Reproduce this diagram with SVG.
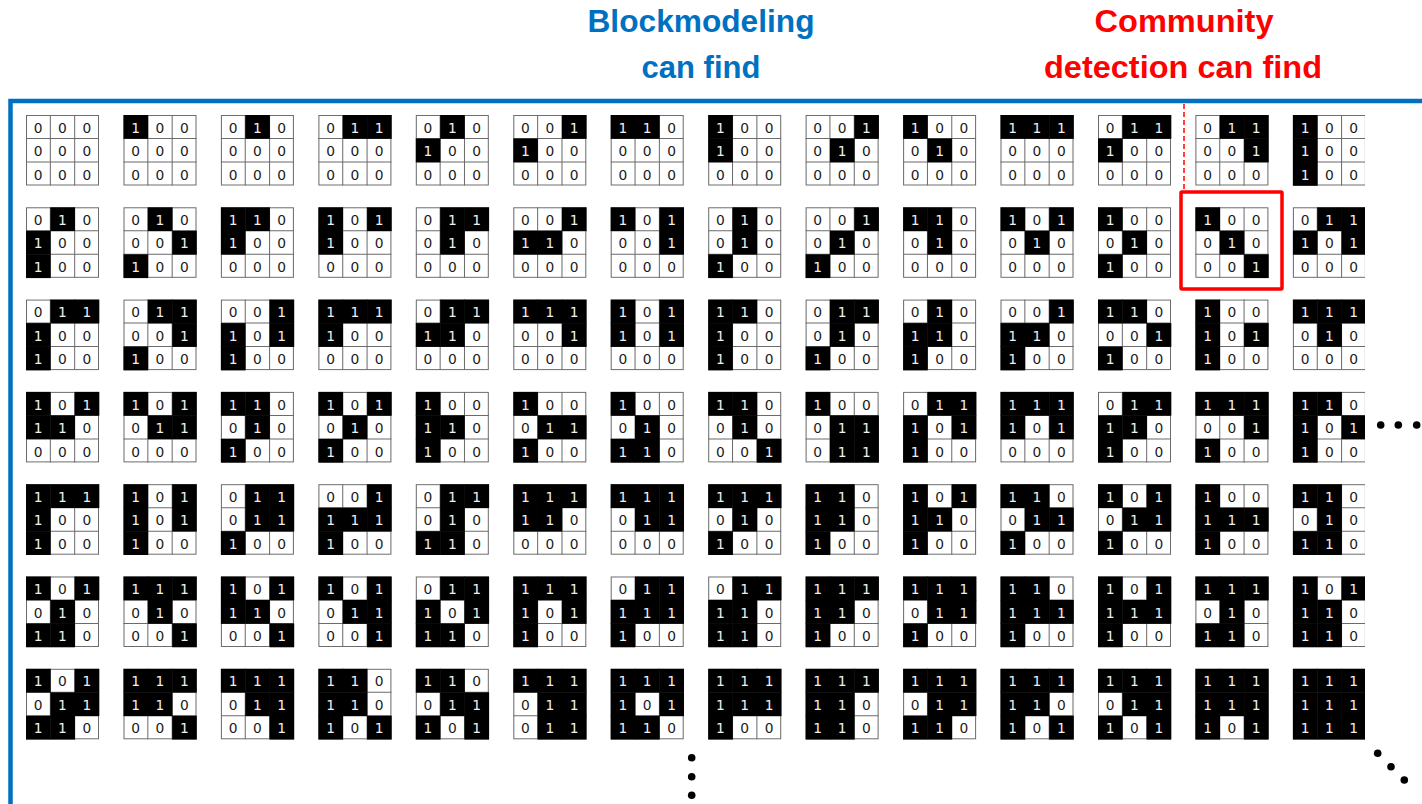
<svg xmlns="http://www.w3.org/2000/svg" xmlns:xlink="http://www.w3.org/1999/xlink" width="1422" height="804" viewBox="0 0 1422 804">
<style>
text{font-family:"DejaVu Sans","Liberation Sans",sans-serif;font-size:13.6px;text-anchor:middle;fill:#1a1a1a}
.o{fill:#f0f0f0}
.h{font-family:"Liberation Sans",Arial,sans-serif;font-weight:bold;font-size:31px;text-anchor:middle}
.blue{fill:#0070C0}
.red{fill:#FF0000}
.dot{fill:#000}
</style>
<defs>
<rect id="b" width="24.3" height="24.3" fill="#000"/>
<g id="g"><rect x=".5" y=".5" width="71" height="71" fill="#fff" stroke="#6b6b6b"/><path d="M24 0V72M48 0V72M0 24H72M0 48H72" stroke="#6b6b6b" fill="none"/></g>
<clipPath id="clip"><rect x="0" y="0" width="1365" height="804"/></clipPath>
</defs>
<rect width="1422" height="804" fill="#fff"/>
<g id="headers">
<text class="h blue" x="701" y="32" textLength="227" lengthAdjust="spacingAndGlyphs">Blockmodeling</text>
<text class="h blue" x="701" y="78" textLength="119" lengthAdjust="spacingAndGlyphs">can find</text>
<text class="h red" x="1184" y="32" textLength="179" lengthAdjust="spacingAndGlyphs">Community</text>
<text class="h red" x="1183" y="78" textLength="278" lengthAdjust="spacingAndGlyphs">detection can find</text>
</g>
<g id="frame"><path d="M10.5 804V101H1422" fill="none" stroke="#0070C0" stroke-width="4.5"/></g>
<g id="connectors"><line x1="1184" y1="104" x2="1184" y2="190" stroke="#f00" stroke-width="1.5" stroke-dasharray="5 3"/></g>
<g id="highlight"><rect x="1181" y="192" width="101" height="97" fill="none" stroke="#f00" stroke-width="3.5" rx="1"/></g>
<g id="matrices" clip-path="url(#clip)">
<g id="m1-1" transform="translate(26,115) scale(1.014,.979)"><use href="#g"/><text x="12" y="18">0</text><text x="36" y="18">0</text><text x="60" y="18">0</text><text x="12" y="42">0</text><text x="36" y="42">0</text><text x="60" y="42">0</text><text x="12" y="66">0</text><text x="36" y="66">0</text><text x="60" y="66">0</text></g>
<g id="m1-2" transform="translate(123.5,115) scale(1.014,.979)"><use href="#g"/><use href="#b"/><text class="o" x="12" y="18">1</text><text x="36" y="18">0</text><text x="60" y="18">0</text><text x="12" y="42">0</text><text x="36" y="42">0</text><text x="60" y="42">0</text><text x="12" y="66">0</text><text x="36" y="66">0</text><text x="60" y="66">0</text></g>
<g id="m1-3" transform="translate(220.9,115) scale(1.014,.979)"><use href="#g"/><use href="#b" x="24"/><text x="12" y="18">0</text><text class="o" x="36" y="18">1</text><text x="60" y="18">0</text><text x="12" y="42">0</text><text x="36" y="42">0</text><text x="60" y="42">0</text><text x="12" y="66">0</text><text x="36" y="66">0</text><text x="60" y="66">0</text></g>
<g id="m1-4" transform="translate(318.4,115) scale(1.014,.979)"><use href="#g"/><use href="#b" x="24"/><use href="#b" x="48"/><text x="12" y="18">0</text><text class="o" x="36" y="18">1</text><text class="o" x="60" y="18">1</text><text x="12" y="42">0</text><text x="36" y="42">0</text><text x="60" y="42">0</text><text x="12" y="66">0</text><text x="36" y="66">0</text><text x="60" y="66">0</text></g>
<g id="m1-5" transform="translate(415.8,115) scale(1.014,.979)"><use href="#g"/><use href="#b" x="24"/><use href="#b" y="24"/><text x="12" y="18">0</text><text class="o" x="36" y="18">1</text><text x="60" y="18">0</text><text class="o" x="12" y="42">1</text><text x="36" y="42">0</text><text x="60" y="42">0</text><text x="12" y="66">0</text><text x="36" y="66">0</text><text x="60" y="66">0</text></g>
<g id="m1-6" transform="translate(513.3,115) scale(1.014,.979)"><use href="#g"/><use href="#b" x="48"/><use href="#b" y="24"/><text x="12" y="18">0</text><text x="36" y="18">0</text><text class="o" x="60" y="18">1</text><text class="o" x="12" y="42">1</text><text x="36" y="42">0</text><text x="60" y="42">0</text><text x="12" y="66">0</text><text x="36" y="66">0</text><text x="60" y="66">0</text></g>
<g id="m1-7" transform="translate(610.7,115) scale(1.014,.979)"><use href="#g"/><use href="#b"/><use href="#b" x="24"/><text class="o" x="12" y="18">1</text><text class="o" x="36" y="18">1</text><text x="60" y="18">0</text><text x="12" y="42">0</text><text x="36" y="42">0</text><text x="60" y="42">0</text><text x="12" y="66">0</text><text x="36" y="66">0</text><text x="60" y="66">0</text></g>
<g id="m1-8" transform="translate(708.2,115) scale(1.014,.979)"><use href="#g"/><use href="#b"/><use href="#b" y="24"/><text class="o" x="12" y="18">1</text><text x="36" y="18">0</text><text x="60" y="18">0</text><text class="o" x="12" y="42">1</text><text x="36" y="42">0</text><text x="60" y="42">0</text><text x="12" y="66">0</text><text x="36" y="66">0</text><text x="60" y="66">0</text></g>
<g id="m1-9" transform="translate(805.6,115) scale(1.014,.979)"><use href="#g"/><use href="#b" x="48"/><use href="#b" x="24" y="24"/><text x="12" y="18">0</text><text x="36" y="18">0</text><text class="o" x="60" y="18">1</text><text x="12" y="42">0</text><text class="o" x="36" y="42">1</text><text x="60" y="42">0</text><text x="12" y="66">0</text><text x="36" y="66">0</text><text x="60" y="66">0</text></g>
<g id="m1-10" transform="translate(903.1,115) scale(1.014,.979)"><use href="#g"/><use href="#b"/><use href="#b" x="24" y="24"/><text class="o" x="12" y="18">1</text><text x="36" y="18">0</text><text x="60" y="18">0</text><text x="12" y="42">0</text><text class="o" x="36" y="42">1</text><text x="60" y="42">0</text><text x="12" y="66">0</text><text x="36" y="66">0</text><text x="60" y="66">0</text></g>
<g id="m1-11" transform="translate(1000.5,115) scale(1.014,.979)"><use href="#g"/><use href="#b"/><use href="#b" x="24"/><use href="#b" x="48"/><text class="o" x="12" y="18">1</text><text class="o" x="36" y="18">1</text><text class="o" x="60" y="18">1</text><text x="12" y="42">0</text><text x="36" y="42">0</text><text x="60" y="42">0</text><text x="12" y="66">0</text><text x="36" y="66">0</text><text x="60" y="66">0</text></g>
<g id="m1-12" transform="translate(1098,115) scale(1.014,.979)"><use href="#g"/><use href="#b" x="24"/><use href="#b" x="48"/><use href="#b" y="24"/><text x="12" y="18">0</text><text class="o" x="36" y="18">1</text><text class="o" x="60" y="18">1</text><text class="o" x="12" y="42">1</text><text x="36" y="42">0</text><text x="60" y="42">0</text><text x="12" y="66">0</text><text x="36" y="66">0</text><text x="60" y="66">0</text></g>
<g id="m1-13" transform="translate(1195.4,115) scale(1.014,.979)"><use href="#g"/><use href="#b" x="24"/><use href="#b" x="48"/><use href="#b" x="48" y="24"/><text x="12" y="18">0</text><text class="o" x="36" y="18">1</text><text class="o" x="60" y="18">1</text><text x="12" y="42">0</text><text x="36" y="42">0</text><text class="o" x="60" y="42">1</text><text x="12" y="66">0</text><text x="36" y="66">0</text><text x="60" y="66">0</text></g>
<g id="m1-14" transform="translate(1292.9,115) scale(1.014,.979)"><use href="#g"/><use href="#b"/><use href="#b" y="24"/><use href="#b" y="48"/><text class="o" x="12" y="18">1</text><text x="36" y="18">0</text><text x="60" y="18">0</text><text class="o" x="12" y="42">1</text><text x="36" y="42">0</text><text x="60" y="42">0</text><text class="o" x="12" y="66">1</text><text x="36" y="66">0</text><text x="60" y="66">0</text></g>

<g id="m2-1" transform="translate(26,207.3) scale(1.014,.979)"><use href="#g"/><use href="#b" x="24"/><use href="#b" y="24"/><use href="#b" y="48"/><text x="12" y="18">0</text><text class="o" x="36" y="18">1</text><text x="60" y="18">0</text><text class="o" x="12" y="42">1</text><text x="36" y="42">0</text><text x="60" y="42">0</text><text class="o" x="12" y="66">1</text><text x="36" y="66">0</text><text x="60" y="66">0</text></g>
<g id="m2-2" transform="translate(123.5,207.3) scale(1.014,.979)"><use href="#g"/><use href="#b" x="24"/><use href="#b" x="48" y="24"/><use href="#b" y="48"/><text x="12" y="18">0</text><text class="o" x="36" y="18">1</text><text x="60" y="18">0</text><text x="12" y="42">0</text><text x="36" y="42">0</text><text class="o" x="60" y="42">1</text><text class="o" x="12" y="66">1</text><text x="36" y="66">0</text><text x="60" y="66">0</text></g>
<g id="m2-3" transform="translate(220.9,207.3) scale(1.014,.979)"><use href="#g"/><use href="#b"/><use href="#b" x="24"/><use href="#b" y="24"/><text class="o" x="12" y="18">1</text><text class="o" x="36" y="18">1</text><text x="60" y="18">0</text><text class="o" x="12" y="42">1</text><text x="36" y="42">0</text><text x="60" y="42">0</text><text x="12" y="66">0</text><text x="36" y="66">0</text><text x="60" y="66">0</text></g>
<g id="m2-4" transform="translate(318.4,207.3) scale(1.014,.979)"><use href="#g"/><use href="#b"/><use href="#b" x="48"/><use href="#b" y="24"/><text class="o" x="12" y="18">1</text><text x="36" y="18">0</text><text class="o" x="60" y="18">1</text><text class="o" x="12" y="42">1</text><text x="36" y="42">0</text><text x="60" y="42">0</text><text x="12" y="66">0</text><text x="36" y="66">0</text><text x="60" y="66">0</text></g>
<g id="m2-5" transform="translate(415.8,207.3) scale(1.014,.979)"><use href="#g"/><use href="#b" x="24"/><use href="#b" x="48"/><use href="#b" x="24" y="24"/><text x="12" y="18">0</text><text class="o" x="36" y="18">1</text><text class="o" x="60" y="18">1</text><text x="12" y="42">0</text><text class="o" x="36" y="42">1</text><text x="60" y="42">0</text><text x="12" y="66">0</text><text x="36" y="66">0</text><text x="60" y="66">0</text></g>
<g id="m2-6" transform="translate(513.3,207.3) scale(1.014,.979)"><use href="#g"/><use href="#b" x="48"/><use href="#b" y="24"/><use href="#b" x="24" y="24"/><text x="12" y="18">0</text><text x="36" y="18">0</text><text class="o" x="60" y="18">1</text><text class="o" x="12" y="42">1</text><text class="o" x="36" y="42">1</text><text x="60" y="42">0</text><text x="12" y="66">0</text><text x="36" y="66">0</text><text x="60" y="66">0</text></g>
<g id="m2-7" transform="translate(610.7,207.3) scale(1.014,.979)"><use href="#g"/><use href="#b"/><use href="#b" x="48"/><use href="#b" x="48" y="24"/><text class="o" x="12" y="18">1</text><text x="36" y="18">0</text><text class="o" x="60" y="18">1</text><text x="12" y="42">0</text><text x="36" y="42">0</text><text class="o" x="60" y="42">1</text><text x="12" y="66">0</text><text x="36" y="66">0</text><text x="60" y="66">0</text></g>
<g id="m2-8" transform="translate(708.2,207.3) scale(1.014,.979)"><use href="#g"/><use href="#b" x="24"/><use href="#b" x="24" y="24"/><use href="#b" y="48"/><text x="12" y="18">0</text><text class="o" x="36" y="18">1</text><text x="60" y="18">0</text><text x="12" y="42">0</text><text class="o" x="36" y="42">1</text><text x="60" y="42">0</text><text class="o" x="12" y="66">1</text><text x="36" y="66">0</text><text x="60" y="66">0</text></g>
<g id="m2-9" transform="translate(805.6,207.3) scale(1.014,.979)"><use href="#g"/><use href="#b" x="48"/><use href="#b" x="24" y="24"/><use href="#b" y="48"/><text x="12" y="18">0</text><text x="36" y="18">0</text><text class="o" x="60" y="18">1</text><text x="12" y="42">0</text><text class="o" x="36" y="42">1</text><text x="60" y="42">0</text><text class="o" x="12" y="66">1</text><text x="36" y="66">0</text><text x="60" y="66">0</text></g>
<g id="m2-10" transform="translate(903.1,207.3) scale(1.014,.979)"><use href="#g"/><use href="#b"/><use href="#b" x="24"/><use href="#b" x="24" y="24"/><text class="o" x="12" y="18">1</text><text class="o" x="36" y="18">1</text><text x="60" y="18">0</text><text x="12" y="42">0</text><text class="o" x="36" y="42">1</text><text x="60" y="42">0</text><text x="12" y="66">0</text><text x="36" y="66">0</text><text x="60" y="66">0</text></g>
<g id="m2-11" transform="translate(1000.5,207.3) scale(1.014,.979)"><use href="#g"/><use href="#b"/><use href="#b" x="48"/><use href="#b" x="24" y="24"/><text class="o" x="12" y="18">1</text><text x="36" y="18">0</text><text class="o" x="60" y="18">1</text><text x="12" y="42">0</text><text class="o" x="36" y="42">1</text><text x="60" y="42">0</text><text x="12" y="66">0</text><text x="36" y="66">0</text><text x="60" y="66">0</text></g>
<g id="m2-12" transform="translate(1098,207.3) scale(1.014,.979)"><use href="#g"/><use href="#b"/><use href="#b" x="24" y="24"/><use href="#b" y="48"/><text class="o" x="12" y="18">1</text><text x="36" y="18">0</text><text x="60" y="18">0</text><text x="12" y="42">0</text><text class="o" x="36" y="42">1</text><text x="60" y="42">0</text><text class="o" x="12" y="66">1</text><text x="36" y="66">0</text><text x="60" y="66">0</text></g>
<g id="m2-13" transform="translate(1195.4,207.3) scale(1.014,.979)"><use href="#g"/><use href="#b"/><use href="#b" x="24" y="24"/><use href="#b" x="48" y="48"/><text class="o" x="12" y="18">1</text><text x="36" y="18">0</text><text x="60" y="18">0</text><text x="12" y="42">0</text><text class="o" x="36" y="42">1</text><text x="60" y="42">0</text><text x="12" y="66">0</text><text x="36" y="66">0</text><text class="o" x="60" y="66">1</text></g>
<g id="m2-14" transform="translate(1292.9,207.3) scale(1.014,.979)"><use href="#g"/><use href="#b" x="24"/><use href="#b" x="48"/><use href="#b" y="24"/><use href="#b" x="48" y="24"/><text x="12" y="18">0</text><text class="o" x="36" y="18">1</text><text class="o" x="60" y="18">1</text><text class="o" x="12" y="42">1</text><text x="36" y="42">0</text><text class="o" x="60" y="42">1</text><text x="12" y="66">0</text><text x="36" y="66">0</text><text x="60" y="66">0</text></g>

<g id="m3-1" transform="translate(26,299.6) scale(1.014,.979)"><use href="#g"/><use href="#b" x="24"/><use href="#b" x="48"/><use href="#b" y="24"/><use href="#b" y="48"/><text x="12" y="18">0</text><text class="o" x="36" y="18">1</text><text class="o" x="60" y="18">1</text><text class="o" x="12" y="42">1</text><text x="36" y="42">0</text><text x="60" y="42">0</text><text class="o" x="12" y="66">1</text><text x="36" y="66">0</text><text x="60" y="66">0</text></g>
<g id="m3-2" transform="translate(123.5,299.6) scale(1.014,.979)"><use href="#g"/><use href="#b" x="24"/><use href="#b" x="48"/><use href="#b" x="48" y="24"/><use href="#b" y="48"/><text x="12" y="18">0</text><text class="o" x="36" y="18">1</text><text class="o" x="60" y="18">1</text><text x="12" y="42">0</text><text x="36" y="42">0</text><text class="o" x="60" y="42">1</text><text class="o" x="12" y="66">1</text><text x="36" y="66">0</text><text x="60" y="66">0</text></g>
<g id="m3-3" transform="translate(220.9,299.6) scale(1.014,.979)"><use href="#g"/><use href="#b" x="48"/><use href="#b" y="24"/><use href="#b" x="48" y="24"/><use href="#b" y="48"/><text x="12" y="18">0</text><text x="36" y="18">0</text><text class="o" x="60" y="18">1</text><text class="o" x="12" y="42">1</text><text x="36" y="42">0</text><text class="o" x="60" y="42">1</text><text class="o" x="12" y="66">1</text><text x="36" y="66">0</text><text x="60" y="66">0</text></g>
<g id="m3-4" transform="translate(318.4,299.6) scale(1.014,.979)"><use href="#g"/><use href="#b"/><use href="#b" x="24"/><use href="#b" x="48"/><use href="#b" y="24"/><text class="o" x="12" y="18">1</text><text class="o" x="36" y="18">1</text><text class="o" x="60" y="18">1</text><text class="o" x="12" y="42">1</text><text x="36" y="42">0</text><text x="60" y="42">0</text><text x="12" y="66">0</text><text x="36" y="66">0</text><text x="60" y="66">0</text></g>
<g id="m3-5" transform="translate(415.8,299.6) scale(1.014,.979)"><use href="#g"/><use href="#b" x="24"/><use href="#b" x="48"/><use href="#b" y="24"/><use href="#b" x="24" y="24"/><text x="12" y="18">0</text><text class="o" x="36" y="18">1</text><text class="o" x="60" y="18">1</text><text class="o" x="12" y="42">1</text><text class="o" x="36" y="42">1</text><text x="60" y="42">0</text><text x="12" y="66">0</text><text x="36" y="66">0</text><text x="60" y="66">0</text></g>
<g id="m3-6" transform="translate(513.3,299.6) scale(1.014,.979)"><use href="#g"/><use href="#b"/><use href="#b" x="24"/><use href="#b" x="48"/><use href="#b" x="48" y="24"/><text class="o" x="12" y="18">1</text><text class="o" x="36" y="18">1</text><text class="o" x="60" y="18">1</text><text x="12" y="42">0</text><text x="36" y="42">0</text><text class="o" x="60" y="42">1</text><text x="12" y="66">0</text><text x="36" y="66">0</text><text x="60" y="66">0</text></g>
<g id="m3-7" transform="translate(610.7,299.6) scale(1.014,.979)"><use href="#g"/><use href="#b"/><use href="#b" x="48"/><use href="#b" y="24"/><use href="#b" x="48" y="24"/><text class="o" x="12" y="18">1</text><text x="36" y="18">0</text><text class="o" x="60" y="18">1</text><text class="o" x="12" y="42">1</text><text x="36" y="42">0</text><text class="o" x="60" y="42">1</text><text x="12" y="66">0</text><text x="36" y="66">0</text><text x="60" y="66">0</text></g>
<g id="m3-8" transform="translate(708.2,299.6) scale(1.014,.979)"><use href="#g"/><use href="#b"/><use href="#b" x="24"/><use href="#b" y="24"/><use href="#b" y="48"/><text class="o" x="12" y="18">1</text><text class="o" x="36" y="18">1</text><text x="60" y="18">0</text><text class="o" x="12" y="42">1</text><text x="36" y="42">0</text><text x="60" y="42">0</text><text class="o" x="12" y="66">1</text><text x="36" y="66">0</text><text x="60" y="66">0</text></g>
<g id="m3-9" transform="translate(805.6,299.6) scale(1.014,.979)"><use href="#g"/><use href="#b" x="24"/><use href="#b" x="48"/><use href="#b" x="24" y="24"/><use href="#b" y="48"/><text x="12" y="18">0</text><text class="o" x="36" y="18">1</text><text class="o" x="60" y="18">1</text><text x="12" y="42">0</text><text class="o" x="36" y="42">1</text><text x="60" y="42">0</text><text class="o" x="12" y="66">1</text><text x="36" y="66">0</text><text x="60" y="66">0</text></g>
<g id="m3-10" transform="translate(903.1,299.6) scale(1.014,.979)"><use href="#g"/><use href="#b" x="24"/><use href="#b" y="24"/><use href="#b" x="24" y="24"/><use href="#b" y="48"/><text x="12" y="18">0</text><text class="o" x="36" y="18">1</text><text x="60" y="18">0</text><text class="o" x="12" y="42">1</text><text class="o" x="36" y="42">1</text><text x="60" y="42">0</text><text class="o" x="12" y="66">1</text><text x="36" y="66">0</text><text x="60" y="66">0</text></g>
<g id="m3-11" transform="translate(1000.5,299.6) scale(1.014,.979)"><use href="#g"/><use href="#b" x="48"/><use href="#b" y="24"/><use href="#b" x="24" y="24"/><use href="#b" y="48"/><text x="12" y="18">0</text><text x="36" y="18">0</text><text class="o" x="60" y="18">1</text><text class="o" x="12" y="42">1</text><text class="o" x="36" y="42">1</text><text x="60" y="42">0</text><text class="o" x="12" y="66">1</text><text x="36" y="66">0</text><text x="60" y="66">0</text></g>
<g id="m3-12" transform="translate(1098,299.6) scale(1.014,.979)"><use href="#g"/><use href="#b"/><use href="#b" x="24"/><use href="#b" x="48" y="24"/><use href="#b" y="48"/><text class="o" x="12" y="18">1</text><text class="o" x="36" y="18">1</text><text x="60" y="18">0</text><text x="12" y="42">0</text><text x="36" y="42">0</text><text class="o" x="60" y="42">1</text><text class="o" x="12" y="66">1</text><text x="36" y="66">0</text><text x="60" y="66">0</text></g>
<g id="m3-13" transform="translate(1195.4,299.6) scale(1.014,.979)"><use href="#g"/><use href="#b"/><use href="#b" y="24"/><use href="#b" x="48" y="24"/><use href="#b" y="48"/><text class="o" x="12" y="18">1</text><text x="36" y="18">0</text><text x="60" y="18">0</text><text class="o" x="12" y="42">1</text><text x="36" y="42">0</text><text class="o" x="60" y="42">1</text><text class="o" x="12" y="66">1</text><text x="36" y="66">0</text><text x="60" y="66">0</text></g>
<g id="m3-14" transform="translate(1292.9,299.6) scale(1.014,.979)"><use href="#g"/><use href="#b"/><use href="#b" x="24"/><use href="#b" x="48"/><use href="#b" x="24" y="24"/><text class="o" x="12" y="18">1</text><text class="o" x="36" y="18">1</text><text class="o" x="60" y="18">1</text><text x="12" y="42">0</text><text class="o" x="36" y="42">1</text><text x="60" y="42">0</text><text x="12" y="66">0</text><text x="36" y="66">0</text><text x="60" y="66">0</text></g>

<g id="m4-1" transform="translate(26,391.9) scale(1.014,.979)"><use href="#g"/><use href="#b"/><use href="#b" x="48"/><use href="#b" y="24"/><use href="#b" x="24" y="24"/><text class="o" x="12" y="18">1</text><text x="36" y="18">0</text><text class="o" x="60" y="18">1</text><text class="o" x="12" y="42">1</text><text class="o" x="36" y="42">1</text><text x="60" y="42">0</text><text x="12" y="66">0</text><text x="36" y="66">0</text><text x="60" y="66">0</text></g>
<g id="m4-2" transform="translate(123.5,391.9) scale(1.014,.979)"><use href="#g"/><use href="#b"/><use href="#b" x="48"/><use href="#b" x="24" y="24"/><use href="#b" x="48" y="24"/><text class="o" x="12" y="18">1</text><text x="36" y="18">0</text><text class="o" x="60" y="18">1</text><text x="12" y="42">0</text><text class="o" x="36" y="42">1</text><text class="o" x="60" y="42">1</text><text x="12" y="66">0</text><text x="36" y="66">0</text><text x="60" y="66">0</text></g>
<g id="m4-3" transform="translate(220.9,391.9) scale(1.014,.979)"><use href="#g"/><use href="#b"/><use href="#b" x="24"/><use href="#b" x="24" y="24"/><use href="#b" y="48"/><text class="o" x="12" y="18">1</text><text class="o" x="36" y="18">1</text><text x="60" y="18">0</text><text x="12" y="42">0</text><text class="o" x="36" y="42">1</text><text x="60" y="42">0</text><text class="o" x="12" y="66">1</text><text x="36" y="66">0</text><text x="60" y="66">0</text></g>
<g id="m4-4" transform="translate(318.4,391.9) scale(1.014,.979)"><use href="#g"/><use href="#b"/><use href="#b" x="48"/><use href="#b" x="24" y="24"/><use href="#b" y="48"/><text class="o" x="12" y="18">1</text><text x="36" y="18">0</text><text class="o" x="60" y="18">1</text><text x="12" y="42">0</text><text class="o" x="36" y="42">1</text><text x="60" y="42">0</text><text class="o" x="12" y="66">1</text><text x="36" y="66">0</text><text x="60" y="66">0</text></g>
<g id="m4-5" transform="translate(415.8,391.9) scale(1.014,.979)"><use href="#g"/><use href="#b"/><use href="#b" y="24"/><use href="#b" x="24" y="24"/><use href="#b" y="48"/><text class="o" x="12" y="18">1</text><text x="36" y="18">0</text><text x="60" y="18">0</text><text class="o" x="12" y="42">1</text><text class="o" x="36" y="42">1</text><text x="60" y="42">0</text><text class="o" x="12" y="66">1</text><text x="36" y="66">0</text><text x="60" y="66">0</text></g>
<g id="m4-6" transform="translate(513.3,391.9) scale(1.014,.979)"><use href="#g"/><use href="#b"/><use href="#b" x="24" y="24"/><use href="#b" x="48" y="24"/><use href="#b" y="48"/><text class="o" x="12" y="18">1</text><text x="36" y="18">0</text><text x="60" y="18">0</text><text x="12" y="42">0</text><text class="o" x="36" y="42">1</text><text class="o" x="60" y="42">1</text><text class="o" x="12" y="66">1</text><text x="36" y="66">0</text><text x="60" y="66">0</text></g>
<g id="m4-7" transform="translate(610.7,391.9) scale(1.014,.979)"><use href="#g"/><use href="#b"/><use href="#b" x="24" y="24"/><use href="#b" y="48"/><use href="#b" x="24" y="48"/><text class="o" x="12" y="18">1</text><text x="36" y="18">0</text><text x="60" y="18">0</text><text x="12" y="42">0</text><text class="o" x="36" y="42">1</text><text x="60" y="42">0</text><text class="o" x="12" y="66">1</text><text class="o" x="36" y="66">1</text><text x="60" y="66">0</text></g>
<g id="m4-8" transform="translate(708.2,391.9) scale(1.014,.979)"><use href="#g"/><use href="#b"/><use href="#b" x="24"/><use href="#b" x="24" y="24"/><use href="#b" x="48" y="48"/><text class="o" x="12" y="18">1</text><text class="o" x="36" y="18">1</text><text x="60" y="18">0</text><text x="12" y="42">0</text><text class="o" x="36" y="42">1</text><text x="60" y="42">0</text><text x="12" y="66">0</text><text x="36" y="66">0</text><text class="o" x="60" y="66">1</text></g>
<g id="m4-9" transform="translate(805.6,391.9) scale(1.014,.979)"><use href="#g"/><use href="#b"/><use href="#b" x="24" y="24"/><use href="#b" x="48" y="24"/><use href="#b" x="24" y="48"/><use href="#b" x="48" y="48"/><text class="o" x="12" y="18">1</text><text x="36" y="18">0</text><text x="60" y="18">0</text><text x="12" y="42">0</text><text class="o" x="36" y="42">1</text><text class="o" x="60" y="42">1</text><text x="12" y="66">0</text><text class="o" x="36" y="66">1</text><text class="o" x="60" y="66">1</text></g>
<g id="m4-10" transform="translate(903.1,391.9) scale(1.014,.979)"><use href="#g"/><use href="#b" x="24"/><use href="#b" x="48"/><use href="#b" y="24"/><use href="#b" x="48" y="24"/><use href="#b" y="48"/><text x="12" y="18">0</text><text class="o" x="36" y="18">1</text><text class="o" x="60" y="18">1</text><text class="o" x="12" y="42">1</text><text x="36" y="42">0</text><text class="o" x="60" y="42">1</text><text class="o" x="12" y="66">1</text><text x="36" y="66">0</text><text x="60" y="66">0</text></g>
<g id="m4-11" transform="translate(1000.5,391.9) scale(1.014,.979)"><use href="#g"/><use href="#b"/><use href="#b" x="24"/><use href="#b" x="48"/><use href="#b" y="24"/><use href="#b" x="48" y="24"/><text class="o" x="12" y="18">1</text><text class="o" x="36" y="18">1</text><text class="o" x="60" y="18">1</text><text class="o" x="12" y="42">1</text><text x="36" y="42">0</text><text class="o" x="60" y="42">1</text><text x="12" y="66">0</text><text x="36" y="66">0</text><text x="60" y="66">0</text></g>
<g id="m4-12" transform="translate(1098,391.9) scale(1.014,.979)"><use href="#g"/><use href="#b" x="24"/><use href="#b" x="48"/><use href="#b" y="24"/><use href="#b" x="24" y="24"/><use href="#b" y="48"/><text x="12" y="18">0</text><text class="o" x="36" y="18">1</text><text class="o" x="60" y="18">1</text><text class="o" x="12" y="42">1</text><text class="o" x="36" y="42">1</text><text x="60" y="42">0</text><text class="o" x="12" y="66">1</text><text x="36" y="66">0</text><text x="60" y="66">0</text></g>
<g id="m4-13" transform="translate(1195.4,391.9) scale(1.014,.979)"><use href="#g"/><use href="#b"/><use href="#b" x="24"/><use href="#b" x="48"/><use href="#b" x="48" y="24"/><use href="#b" y="48"/><text class="o" x="12" y="18">1</text><text class="o" x="36" y="18">1</text><text class="o" x="60" y="18">1</text><text x="12" y="42">0</text><text x="36" y="42">0</text><text class="o" x="60" y="42">1</text><text class="o" x="12" y="66">1</text><text x="36" y="66">0</text><text x="60" y="66">0</text></g>
<g id="m4-14" transform="translate(1292.9,391.9) scale(1.014,.979)"><use href="#g"/><use href="#b"/><use href="#b" x="24"/><use href="#b" y="24"/><use href="#b" x="48" y="24"/><use href="#b" y="48"/><text class="o" x="12" y="18">1</text><text class="o" x="36" y="18">1</text><text x="60" y="18">0</text><text class="o" x="12" y="42">1</text><text x="36" y="42">0</text><text class="o" x="60" y="42">1</text><text class="o" x="12" y="66">1</text><text x="36" y="66">0</text><text x="60" y="66">0</text></g>

<g id="m5-1" transform="translate(26,484.2) scale(1.014,.979)"><use href="#g"/><use href="#b"/><use href="#b" x="24"/><use href="#b" x="48"/><use href="#b" y="24"/><use href="#b" y="48"/><text class="o" x="12" y="18">1</text><text class="o" x="36" y="18">1</text><text class="o" x="60" y="18">1</text><text class="o" x="12" y="42">1</text><text x="36" y="42">0</text><text x="60" y="42">0</text><text class="o" x="12" y="66">1</text><text x="36" y="66">0</text><text x="60" y="66">0</text></g>
<g id="m5-2" transform="translate(123.5,484.2) scale(1.014,.979)"><use href="#g"/><use href="#b"/><use href="#b" x="48"/><use href="#b" y="24"/><use href="#b" x="48" y="24"/><use href="#b" y="48"/><text class="o" x="12" y="18">1</text><text x="36" y="18">0</text><text class="o" x="60" y="18">1</text><text class="o" x="12" y="42">1</text><text x="36" y="42">0</text><text class="o" x="60" y="42">1</text><text class="o" x="12" y="66">1</text><text x="36" y="66">0</text><text x="60" y="66">0</text></g>
<g id="m5-3" transform="translate(220.9,484.2) scale(1.014,.979)"><use href="#g"/><use href="#b" x="24"/><use href="#b" x="48"/><use href="#b" x="24" y="24"/><use href="#b" x="48" y="24"/><use href="#b" y="48"/><text x="12" y="18">0</text><text class="o" x="36" y="18">1</text><text class="o" x="60" y="18">1</text><text x="12" y="42">0</text><text class="o" x="36" y="42">1</text><text class="o" x="60" y="42">1</text><text class="o" x="12" y="66">1</text><text x="36" y="66">0</text><text x="60" y="66">0</text></g>
<g id="m5-4" transform="translate(318.4,484.2) scale(1.014,.979)"><use href="#g"/><use href="#b" x="48"/><use href="#b" y="24"/><use href="#b" x="24" y="24"/><use href="#b" x="48" y="24"/><use href="#b" y="48"/><text x="12" y="18">0</text><text x="36" y="18">0</text><text class="o" x="60" y="18">1</text><text class="o" x="12" y="42">1</text><text class="o" x="36" y="42">1</text><text class="o" x="60" y="42">1</text><text class="o" x="12" y="66">1</text><text x="36" y="66">0</text><text x="60" y="66">0</text></g>
<g id="m5-5" transform="translate(415.8,484.2) scale(1.014,.979)"><use href="#g"/><use href="#b" x="24"/><use href="#b" x="48"/><use href="#b" x="24" y="24"/><use href="#b" y="48"/><use href="#b" x="24" y="48"/><text x="12" y="18">0</text><text class="o" x="36" y="18">1</text><text class="o" x="60" y="18">1</text><text x="12" y="42">0</text><text class="o" x="36" y="42">1</text><text x="60" y="42">0</text><text class="o" x="12" y="66">1</text><text class="o" x="36" y="66">1</text><text x="60" y="66">0</text></g>
<g id="m5-6" transform="translate(513.3,484.2) scale(1.014,.979)"><use href="#g"/><use href="#b"/><use href="#b" x="24"/><use href="#b" x="48"/><use href="#b" y="24"/><use href="#b" x="24" y="24"/><text class="o" x="12" y="18">1</text><text class="o" x="36" y="18">1</text><text class="o" x="60" y="18">1</text><text class="o" x="12" y="42">1</text><text class="o" x="36" y="42">1</text><text x="60" y="42">0</text><text x="12" y="66">0</text><text x="36" y="66">0</text><text x="60" y="66">0</text></g>
<g id="m5-7" transform="translate(610.7,484.2) scale(1.014,.979)"><use href="#g"/><use href="#b"/><use href="#b" x="24"/><use href="#b" x="48"/><use href="#b" x="24" y="24"/><use href="#b" x="48" y="24"/><text class="o" x="12" y="18">1</text><text class="o" x="36" y="18">1</text><text class="o" x="60" y="18">1</text><text x="12" y="42">0</text><text class="o" x="36" y="42">1</text><text class="o" x="60" y="42">1</text><text x="12" y="66">0</text><text x="36" y="66">0</text><text x="60" y="66">0</text></g>
<g id="m5-8" transform="translate(708.2,484.2) scale(1.014,.979)"><use href="#g"/><use href="#b"/><use href="#b" x="24"/><use href="#b" x="48"/><use href="#b" x="24" y="24"/><use href="#b" y="48"/><text class="o" x="12" y="18">1</text><text class="o" x="36" y="18">1</text><text class="o" x="60" y="18">1</text><text x="12" y="42">0</text><text class="o" x="36" y="42">1</text><text x="60" y="42">0</text><text class="o" x="12" y="66">1</text><text x="36" y="66">0</text><text x="60" y="66">0</text></g>
<g id="m5-9" transform="translate(805.6,484.2) scale(1.014,.979)"><use href="#g"/><use href="#b"/><use href="#b" x="24"/><use href="#b" y="24"/><use href="#b" x="24" y="24"/><use href="#b" y="48"/><text class="o" x="12" y="18">1</text><text class="o" x="36" y="18">1</text><text x="60" y="18">0</text><text class="o" x="12" y="42">1</text><text class="o" x="36" y="42">1</text><text x="60" y="42">0</text><text class="o" x="12" y="66">1</text><text x="36" y="66">0</text><text x="60" y="66">0</text></g>
<g id="m5-10" transform="translate(903.1,484.2) scale(1.014,.979)"><use href="#g"/><use href="#b"/><use href="#b" x="48"/><use href="#b" y="24"/><use href="#b" x="24" y="24"/><use href="#b" y="48"/><text class="o" x="12" y="18">1</text><text x="36" y="18">0</text><text class="o" x="60" y="18">1</text><text class="o" x="12" y="42">1</text><text class="o" x="36" y="42">1</text><text x="60" y="42">0</text><text class="o" x="12" y="66">1</text><text x="36" y="66">0</text><text x="60" y="66">0</text></g>
<g id="m5-11" transform="translate(1000.5,484.2) scale(1.014,.979)"><use href="#g"/><use href="#b"/><use href="#b" x="24"/><use href="#b" x="24" y="24"/><use href="#b" x="48" y="24"/><use href="#b" y="48"/><text class="o" x="12" y="18">1</text><text class="o" x="36" y="18">1</text><text x="60" y="18">0</text><text x="12" y="42">0</text><text class="o" x="36" y="42">1</text><text class="o" x="60" y="42">1</text><text class="o" x="12" y="66">1</text><text x="36" y="66">0</text><text x="60" y="66">0</text></g>
<g id="m5-12" transform="translate(1098,484.2) scale(1.014,.979)"><use href="#g"/><use href="#b"/><use href="#b" x="48"/><use href="#b" x="24" y="24"/><use href="#b" x="48" y="24"/><use href="#b" y="48"/><text class="o" x="12" y="18">1</text><text x="36" y="18">0</text><text class="o" x="60" y="18">1</text><text x="12" y="42">0</text><text class="o" x="36" y="42">1</text><text class="o" x="60" y="42">1</text><text class="o" x="12" y="66">1</text><text x="36" y="66">0</text><text x="60" y="66">0</text></g>
<g id="m5-13" transform="translate(1195.4,484.2) scale(1.014,.979)"><use href="#g"/><use href="#b"/><use href="#b" y="24"/><use href="#b" x="24" y="24"/><use href="#b" x="48" y="24"/><use href="#b" y="48"/><text class="o" x="12" y="18">1</text><text x="36" y="18">0</text><text x="60" y="18">0</text><text class="o" x="12" y="42">1</text><text class="o" x="36" y="42">1</text><text class="o" x="60" y="42">1</text><text class="o" x="12" y="66">1</text><text x="36" y="66">0</text><text x="60" y="66">0</text></g>
<g id="m5-14" transform="translate(1292.9,484.2) scale(1.014,.979)"><use href="#g"/><use href="#b"/><use href="#b" x="24"/><use href="#b" x="24" y="24"/><use href="#b" y="48"/><use href="#b" x="24" y="48"/><text class="o" x="12" y="18">1</text><text class="o" x="36" y="18">1</text><text x="60" y="18">0</text><text x="12" y="42">0</text><text class="o" x="36" y="42">1</text><text x="60" y="42">0</text><text class="o" x="12" y="66">1</text><text class="o" x="36" y="66">1</text><text x="60" y="66">0</text></g>

<g id="m6-1" transform="translate(26,576.5) scale(1.014,.979)"><use href="#g"/><use href="#b"/><use href="#b" x="48"/><use href="#b" x="24" y="24"/><use href="#b" y="48"/><use href="#b" x="24" y="48"/><text class="o" x="12" y="18">1</text><text x="36" y="18">0</text><text class="o" x="60" y="18">1</text><text x="12" y="42">0</text><text class="o" x="36" y="42">1</text><text x="60" y="42">0</text><text class="o" x="12" y="66">1</text><text class="o" x="36" y="66">1</text><text x="60" y="66">0</text></g>
<g id="m6-2" transform="translate(123.5,576.5) scale(1.014,.979)"><use href="#g"/><use href="#b"/><use href="#b" x="24"/><use href="#b" x="48"/><use href="#b" x="24" y="24"/><use href="#b" x="48" y="48"/><text class="o" x="12" y="18">1</text><text class="o" x="36" y="18">1</text><text class="o" x="60" y="18">1</text><text x="12" y="42">0</text><text class="o" x="36" y="42">1</text><text x="60" y="42">0</text><text x="12" y="66">0</text><text x="36" y="66">0</text><text class="o" x="60" y="66">1</text></g>
<g id="m6-3" transform="translate(220.9,576.5) scale(1.014,.979)"><use href="#g"/><use href="#b"/><use href="#b" x="48"/><use href="#b" y="24"/><use href="#b" x="24" y="24"/><use href="#b" x="48" y="48"/><text class="o" x="12" y="18">1</text><text x="36" y="18">0</text><text class="o" x="60" y="18">1</text><text class="o" x="12" y="42">1</text><text class="o" x="36" y="42">1</text><text x="60" y="42">0</text><text x="12" y="66">0</text><text x="36" y="66">0</text><text class="o" x="60" y="66">1</text></g>
<g id="m6-4" transform="translate(318.4,576.5) scale(1.014,.979)"><use href="#g"/><use href="#b"/><use href="#b" x="48"/><use href="#b" x="24" y="24"/><use href="#b" x="48" y="24"/><use href="#b" x="48" y="48"/><text class="o" x="12" y="18">1</text><text x="36" y="18">0</text><text class="o" x="60" y="18">1</text><text x="12" y="42">0</text><text class="o" x="36" y="42">1</text><text class="o" x="60" y="42">1</text><text x="12" y="66">0</text><text x="36" y="66">0</text><text class="o" x="60" y="66">1</text></g>
<g id="m6-5" transform="translate(415.8,576.5) scale(1.014,.979)"><use href="#g"/><use href="#b" x="24"/><use href="#b" x="48"/><use href="#b" y="24"/><use href="#b" x="48" y="24"/><use href="#b" y="48"/><use href="#b" x="24" y="48"/><text x="12" y="18">0</text><text class="o" x="36" y="18">1</text><text class="o" x="60" y="18">1</text><text class="o" x="12" y="42">1</text><text x="36" y="42">0</text><text class="o" x="60" y="42">1</text><text class="o" x="12" y="66">1</text><text class="o" x="36" y="66">1</text><text x="60" y="66">0</text></g>
<g id="m6-6" transform="translate(513.3,576.5) scale(1.014,.979)"><use href="#g"/><use href="#b"/><use href="#b" x="24"/><use href="#b" x="48"/><use href="#b" y="24"/><use href="#b" x="48" y="24"/><use href="#b" y="48"/><text class="o" x="12" y="18">1</text><text class="o" x="36" y="18">1</text><text class="o" x="60" y="18">1</text><text class="o" x="12" y="42">1</text><text x="36" y="42">0</text><text class="o" x="60" y="42">1</text><text class="o" x="12" y="66">1</text><text x="36" y="66">0</text><text x="60" y="66">0</text></g>
<g id="m6-7" transform="translate(610.7,576.5) scale(1.014,.979)"><use href="#g"/><use href="#b" x="24"/><use href="#b" x="48"/><use href="#b" y="24"/><use href="#b" x="24" y="24"/><use href="#b" x="48" y="24"/><use href="#b" y="48"/><text x="12" y="18">0</text><text class="o" x="36" y="18">1</text><text class="o" x="60" y="18">1</text><text class="o" x="12" y="42">1</text><text class="o" x="36" y="42">1</text><text class="o" x="60" y="42">1</text><text class="o" x="12" y="66">1</text><text x="36" y="66">0</text><text x="60" y="66">0</text></g>
<g id="m6-8" transform="translate(708.2,576.5) scale(1.014,.979)"><use href="#g"/><use href="#b" x="24"/><use href="#b" x="48"/><use href="#b" y="24"/><use href="#b" x="24" y="24"/><use href="#b" y="48"/><use href="#b" x="24" y="48"/><text x="12" y="18">0</text><text class="o" x="36" y="18">1</text><text class="o" x="60" y="18">1</text><text class="o" x="12" y="42">1</text><text class="o" x="36" y="42">1</text><text x="60" y="42">0</text><text class="o" x="12" y="66">1</text><text class="o" x="36" y="66">1</text><text x="60" y="66">0</text></g>
<g id="m6-9" transform="translate(805.6,576.5) scale(1.014,.979)"><use href="#g"/><use href="#b"/><use href="#b" x="24"/><use href="#b" x="48"/><use href="#b" y="24"/><use href="#b" x="24" y="24"/><use href="#b" y="48"/><text class="o" x="12" y="18">1</text><text class="o" x="36" y="18">1</text><text class="o" x="60" y="18">1</text><text class="o" x="12" y="42">1</text><text class="o" x="36" y="42">1</text><text x="60" y="42">0</text><text class="o" x="12" y="66">1</text><text x="36" y="66">0</text><text x="60" y="66">0</text></g>
<g id="m6-10" transform="translate(903.1,576.5) scale(1.014,.979)"><use href="#g"/><use href="#b"/><use href="#b" x="24"/><use href="#b" x="48"/><use href="#b" x="24" y="24"/><use href="#b" x="48" y="24"/><use href="#b" y="48"/><text class="o" x="12" y="18">1</text><text class="o" x="36" y="18">1</text><text class="o" x="60" y="18">1</text><text x="12" y="42">0</text><text class="o" x="36" y="42">1</text><text class="o" x="60" y="42">1</text><text class="o" x="12" y="66">1</text><text x="36" y="66">0</text><text x="60" y="66">0</text></g>
<g id="m6-11" transform="translate(1000.5,576.5) scale(1.014,.979)"><use href="#g"/><use href="#b"/><use href="#b" x="24"/><use href="#b" y="24"/><use href="#b" x="24" y="24"/><use href="#b" x="48" y="24"/><use href="#b" y="48"/><text class="o" x="12" y="18">1</text><text class="o" x="36" y="18">1</text><text x="60" y="18">0</text><text class="o" x="12" y="42">1</text><text class="o" x="36" y="42">1</text><text class="o" x="60" y="42">1</text><text class="o" x="12" y="66">1</text><text x="36" y="66">0</text><text x="60" y="66">0</text></g>
<g id="m6-12" transform="translate(1098,576.5) scale(1.014,.979)"><use href="#g"/><use href="#b"/><use href="#b" x="48"/><use href="#b" y="24"/><use href="#b" x="24" y="24"/><use href="#b" x="48" y="24"/><use href="#b" y="48"/><text class="o" x="12" y="18">1</text><text x="36" y="18">0</text><text class="o" x="60" y="18">1</text><text class="o" x="12" y="42">1</text><text class="o" x="36" y="42">1</text><text class="o" x="60" y="42">1</text><text class="o" x="12" y="66">1</text><text x="36" y="66">0</text><text x="60" y="66">0</text></g>
<g id="m6-13" transform="translate(1195.4,576.5) scale(1.014,.979)"><use href="#g"/><use href="#b"/><use href="#b" x="24"/><use href="#b" x="48"/><use href="#b" x="24" y="24"/><use href="#b" y="48"/><use href="#b" x="24" y="48"/><text class="o" x="12" y="18">1</text><text class="o" x="36" y="18">1</text><text class="o" x="60" y="18">1</text><text x="12" y="42">0</text><text class="o" x="36" y="42">1</text><text x="60" y="42">0</text><text class="o" x="12" y="66">1</text><text class="o" x="36" y="66">1</text><text x="60" y="66">0</text></g>
<g id="m6-14" transform="translate(1292.9,576.5) scale(1.014,.979)"><use href="#g"/><use href="#b"/><use href="#b" x="48"/><use href="#b" y="24"/><use href="#b" x="24" y="24"/><use href="#b" y="48"/><use href="#b" x="24" y="48"/><text class="o" x="12" y="18">1</text><text x="36" y="18">0</text><text class="o" x="60" y="18">1</text><text class="o" x="12" y="42">1</text><text class="o" x="36" y="42">1</text><text x="60" y="42">0</text><text class="o" x="12" y="66">1</text><text class="o" x="36" y="66">1</text><text x="60" y="66">0</text></g>

<g id="m7-1" transform="translate(26,668.8) scale(1.014,.979)"><use href="#g"/><use href="#b"/><use href="#b" x="48"/><use href="#b" x="24" y="24"/><use href="#b" x="48" y="24"/><use href="#b" y="48"/><use href="#b" x="24" y="48"/><text class="o" x="12" y="18">1</text><text x="36" y="18">0</text><text class="o" x="60" y="18">1</text><text x="12" y="42">0</text><text class="o" x="36" y="42">1</text><text class="o" x="60" y="42">1</text><text class="o" x="12" y="66">1</text><text class="o" x="36" y="66">1</text><text x="60" y="66">0</text></g>
<g id="m7-2" transform="translate(123.5,668.8) scale(1.014,.979)"><use href="#g"/><use href="#b"/><use href="#b" x="24"/><use href="#b" x="48"/><use href="#b" y="24"/><use href="#b" x="24" y="24"/><use href="#b" x="48" y="48"/><text class="o" x="12" y="18">1</text><text class="o" x="36" y="18">1</text><text class="o" x="60" y="18">1</text><text class="o" x="12" y="42">1</text><text class="o" x="36" y="42">1</text><text x="60" y="42">0</text><text x="12" y="66">0</text><text x="36" y="66">0</text><text class="o" x="60" y="66">1</text></g>
<g id="m7-3" transform="translate(220.9,668.8) scale(1.014,.979)"><use href="#g"/><use href="#b"/><use href="#b" x="24"/><use href="#b" x="48"/><use href="#b" x="24" y="24"/><use href="#b" x="48" y="24"/><use href="#b" x="48" y="48"/><text class="o" x="12" y="18">1</text><text class="o" x="36" y="18">1</text><text class="o" x="60" y="18">1</text><text x="12" y="42">0</text><text class="o" x="36" y="42">1</text><text class="o" x="60" y="42">1</text><text x="12" y="66">0</text><text x="36" y="66">0</text><text class="o" x="60" y="66">1</text></g>
<g id="m7-4" transform="translate(318.4,668.8) scale(1.014,.979)"><use href="#g"/><use href="#b"/><use href="#b" x="24"/><use href="#b" y="24"/><use href="#b" x="24" y="24"/><use href="#b" y="48"/><use href="#b" x="48" y="48"/><text class="o" x="12" y="18">1</text><text class="o" x="36" y="18">1</text><text x="60" y="18">0</text><text class="o" x="12" y="42">1</text><text class="o" x="36" y="42">1</text><text x="60" y="42">0</text><text class="o" x="12" y="66">1</text><text x="36" y="66">0</text><text class="o" x="60" y="66">1</text></g>
<g id="m7-5" transform="translate(415.8,668.8) scale(1.014,.979)"><use href="#g"/><use href="#b"/><use href="#b" x="24"/><use href="#b" x="24" y="24"/><use href="#b" x="48" y="24"/><use href="#b" y="48"/><use href="#b" x="48" y="48"/><text class="o" x="12" y="18">1</text><text class="o" x="36" y="18">1</text><text x="60" y="18">0</text><text x="12" y="42">0</text><text class="o" x="36" y="42">1</text><text class="o" x="60" y="42">1</text><text class="o" x="12" y="66">1</text><text x="36" y="66">0</text><text class="o" x="60" y="66">1</text></g>
<g id="m7-6" transform="translate(513.3,668.8) scale(1.014,.979)"><use href="#g"/><use href="#b"/><use href="#b" x="24"/><use href="#b" x="48"/><use href="#b" x="24" y="24"/><use href="#b" x="48" y="24"/><use href="#b" x="24" y="48"/><use href="#b" x="48" y="48"/><text class="o" x="12" y="18">1</text><text class="o" x="36" y="18">1</text><text class="o" x="60" y="18">1</text><text x="12" y="42">0</text><text class="o" x="36" y="42">1</text><text class="o" x="60" y="42">1</text><text x="12" y="66">0</text><text class="o" x="36" y="66">1</text><text class="o" x="60" y="66">1</text></g>
<g id="m7-7" transform="translate(610.7,668.8) scale(1.014,.979)"><use href="#g"/><use href="#b"/><use href="#b" x="24"/><use href="#b" x="48"/><use href="#b" y="24"/><use href="#b" x="48" y="24"/><use href="#b" y="48"/><use href="#b" x="24" y="48"/><text class="o" x="12" y="18">1</text><text class="o" x="36" y="18">1</text><text class="o" x="60" y="18">1</text><text class="o" x="12" y="42">1</text><text x="36" y="42">0</text><text class="o" x="60" y="42">1</text><text class="o" x="12" y="66">1</text><text class="o" x="36" y="66">1</text><text x="60" y="66">0</text></g>
<g id="m7-8" transform="translate(708.2,668.8) scale(1.014,.979)"><use href="#g"/><use href="#b"/><use href="#b" x="24"/><use href="#b" x="48"/><use href="#b" y="24"/><use href="#b" x="24" y="24"/><use href="#b" x="48" y="24"/><use href="#b" y="48"/><text class="o" x="12" y="18">1</text><text class="o" x="36" y="18">1</text><text class="o" x="60" y="18">1</text><text class="o" x="12" y="42">1</text><text class="o" x="36" y="42">1</text><text class="o" x="60" y="42">1</text><text class="o" x="12" y="66">1</text><text x="36" y="66">0</text><text x="60" y="66">0</text></g>
<g id="m7-9" transform="translate(805.6,668.8) scale(1.014,.979)"><use href="#g"/><use href="#b"/><use href="#b" x="24"/><use href="#b" x="48"/><use href="#b" y="24"/><use href="#b" x="24" y="24"/><use href="#b" y="48"/><use href="#b" x="24" y="48"/><text class="o" x="12" y="18">1</text><text class="o" x="36" y="18">1</text><text class="o" x="60" y="18">1</text><text class="o" x="12" y="42">1</text><text class="o" x="36" y="42">1</text><text x="60" y="42">0</text><text class="o" x="12" y="66">1</text><text class="o" x="36" y="66">1</text><text x="60" y="66">0</text></g>
<g id="m7-10" transform="translate(903.1,668.8) scale(1.014,.979)"><use href="#g"/><use href="#b"/><use href="#b" x="24"/><use href="#b" x="48"/><use href="#b" x="24" y="24"/><use href="#b" x="48" y="24"/><use href="#b" y="48"/><use href="#b" x="24" y="48"/><text class="o" x="12" y="18">1</text><text class="o" x="36" y="18">1</text><text class="o" x="60" y="18">1</text><text x="12" y="42">0</text><text class="o" x="36" y="42">1</text><text class="o" x="60" y="42">1</text><text class="o" x="12" y="66">1</text><text class="o" x="36" y="66">1</text><text x="60" y="66">0</text></g>
<g id="m7-11" transform="translate(1000.5,668.8) scale(1.014,.979)"><use href="#g"/><use href="#b"/><use href="#b" x="24"/><use href="#b" x="48"/><use href="#b" y="24"/><use href="#b" x="24" y="24"/><use href="#b" y="48"/><use href="#b" x="48" y="48"/><text class="o" x="12" y="18">1</text><text class="o" x="36" y="18">1</text><text class="o" x="60" y="18">1</text><text class="o" x="12" y="42">1</text><text class="o" x="36" y="42">1</text><text x="60" y="42">0</text><text class="o" x="12" y="66">1</text><text x="36" y="66">0</text><text class="o" x="60" y="66">1</text></g>
<g id="m7-12" transform="translate(1098,668.8) scale(1.014,.979)"><use href="#g"/><use href="#b"/><use href="#b" x="24"/><use href="#b" x="48"/><use href="#b" x="24" y="24"/><use href="#b" x="48" y="24"/><use href="#b" y="48"/><use href="#b" x="48" y="48"/><text class="o" x="12" y="18">1</text><text class="o" x="36" y="18">1</text><text class="o" x="60" y="18">1</text><text x="12" y="42">0</text><text class="o" x="36" y="42">1</text><text class="o" x="60" y="42">1</text><text class="o" x="12" y="66">1</text><text x="36" y="66">0</text><text class="o" x="60" y="66">1</text></g>
<g id="m7-13" transform="translate(1195.4,668.8) scale(1.014,.979)"><use href="#g"/><use href="#b"/><use href="#b" x="24"/><use href="#b" x="48"/><use href="#b" y="24"/><use href="#b" x="24" y="24"/><use href="#b" x="48" y="24"/><use href="#b" y="48"/><use href="#b" x="48" y="48"/><text class="o" x="12" y="18">1</text><text class="o" x="36" y="18">1</text><text class="o" x="60" y="18">1</text><text class="o" x="12" y="42">1</text><text class="o" x="36" y="42">1</text><text class="o" x="60" y="42">1</text><text class="o" x="12" y="66">1</text><text x="36" y="66">0</text><text class="o" x="60" y="66">1</text></g>
<g id="m7-14" transform="translate(1292.9,668.8) scale(1.014,.979)"><use href="#g"/><use href="#b"/><use href="#b" x="24"/><use href="#b" x="48"/><use href="#b" y="24"/><use href="#b" x="24" y="24"/><use href="#b" x="48" y="24"/><use href="#b" y="48"/><use href="#b" x="24" y="48"/><use href="#b" x="48" y="48"/><text class="o" x="12" y="18">1</text><text class="o" x="36" y="18">1</text><text class="o" x="60" y="18">1</text><text class="o" x="12" y="42">1</text><text class="o" x="36" y="42">1</text><text class="o" x="60" y="42">1</text><text class="o" x="12" y="66">1</text><text class="o" x="36" y="66">1</text><text class="o" x="60" y="66">1</text></g>
</g>
<g id="ellipses">
<circle class="dot" cx="1380.7" cy="425" r="3.8"/><circle class="dot" cx="1398.3" cy="425" r="3.8"/><circle class="dot" cx="1416.7" cy="425" r="3.8"/>
<circle class="dot" cx="691.7" cy="757.7" r="3.8"/><circle class="dot" cx="691.7" cy="776.7" r="3.8"/><circle class="dot" cx="691.7" cy="795.3" r="3.8"/>
<circle class="dot" cx="1377.7" cy="753.3" r="3.8"/><circle class="dot" cx="1391" cy="766.7" r="3.8"/><circle class="dot" cx="1404.3" cy="780" r="3.8"/>
</g>
</svg>
